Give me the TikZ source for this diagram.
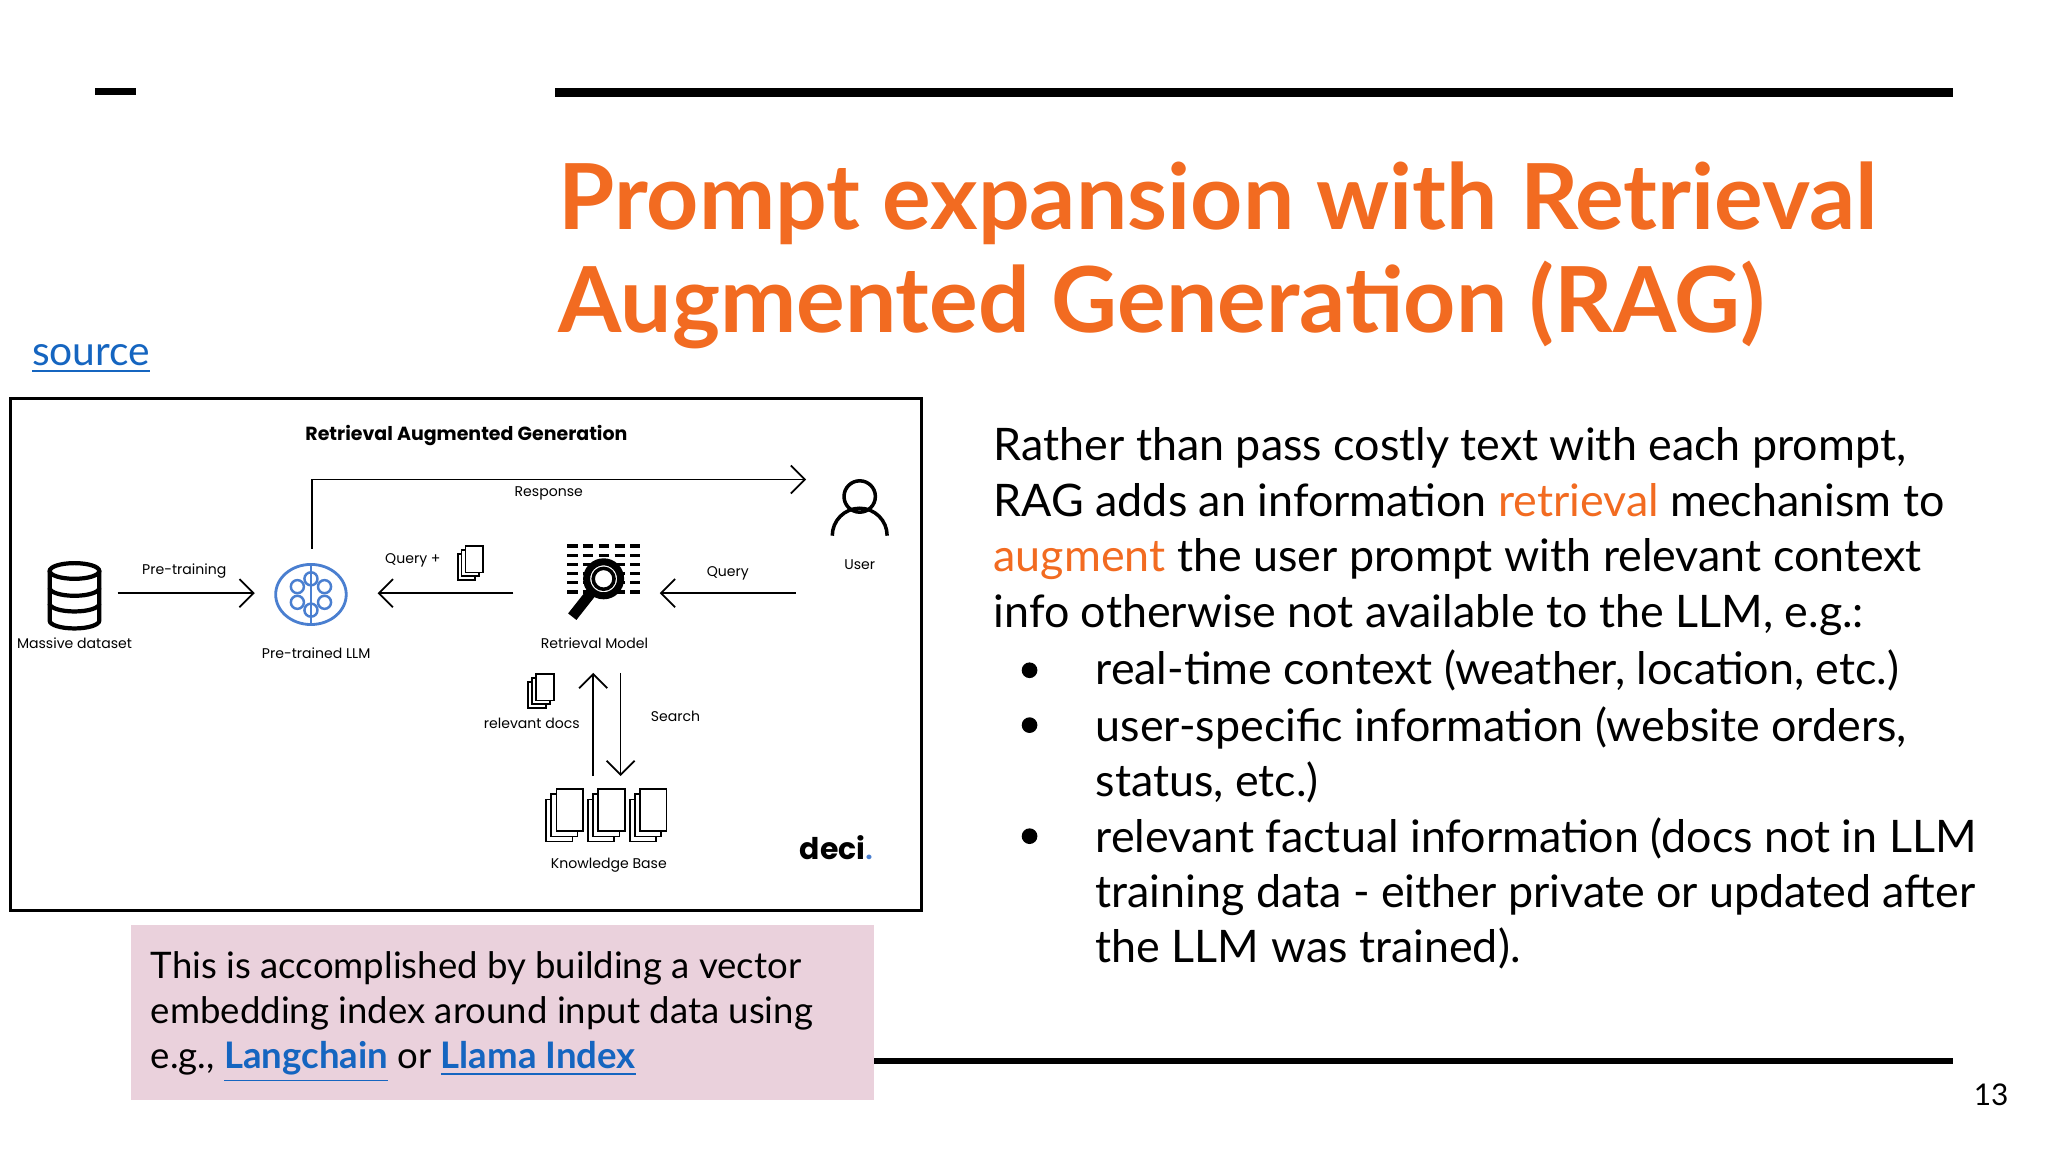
\documentclass[tikz,border=0pt]{standalone}
\usepackage{fontspec}
\usetikzlibrary{arrows.meta}
\setmainfont{Lato}
\newfontfamily\pop{Poppins}
\definecolor{orng}{HTML}{F26B21}
\definecolor{lnk}{HTML}{1565C0}
\definecolor{pinkbox}{HTML}{EAD1DC}
\definecolor{brain}{HTML}{4A7FD0}
\begin{document}
\begin{tikzpicture}[x=0.013065cm,y=-0.013065cm,
  lbl/.style={font=\pop\fontsize{4}{5}\selectfont,inner sep=0},
  arr/.style={-{Straight Barb[length=4pt]},line width=0.5pt},
  body/.style={font=\fontsize{12.75}{15.75}\selectfont,anchor=north west,align=left,inner sep=0},
  doc/.style={draw,line width=0.5pt,fill=white,minimum width=5pt,minimum height=7.5pt,inner sep=0},
  kdoc/.style={doc,minimum width=7.5pt,minimum height=12pt}]
\useasboundingbox (0,0) rectangle (1567.5,881.7);
\fill[white] (0,0) rectangle (1567.5,881.7);
% top rules
\draw[line width=2pt] (73,70) -- (104,70);
\draw[line width=2.6pt] (425,71) -- (1495,71);
\draw[line width=1.5pt] (669,812) -- (1495,812);
% title
\node[anchor=north west,inner sep=0,text=orng,font=\bfseries\fontsize{25.9}{29.5}\selectfont,align=left] (title) at (427,123) {Prompt expansion with Retrieval\\Augmented Generation (RAG)};
\node[anchor=base west,inner sep=0,text=lnk,font=\fontsize{11.6}{14}\selectfont] (src) at (24,280) {\underline{source}};
% diagram frame
\draw[line width=0.8pt] (8,305) rectangle (705,697);
\node[lbl,font=\pop\bfseries\fontsize{5.4}{7}\selectfont] (t) at (357,333) {Retrieval Augmented Generation};
% database
\begin{scope}[shift={(57,455)}]
\draw[line width=1.2pt,fill=white] (-19,-18) -- (-19,20) arc[start angle=180,end angle=360,x radius=19,y radius=-6] -- (19,-18);
\draw[line width=1.2pt] (-19,-5) arc[start angle=180,end angle=360,x radius=19,y radius=-6];
\draw[line width=1.2pt] (-19,7) arc[start angle=180,end angle=360,x radius=19,y radius=-6];
\draw[line width=1.2pt,fill=white] (0,-18) ellipse[x radius=19,y radius=6];
\end{scope}
\node[lbl] (md) at (57,492) {Massive dataset};
% brain
\coordinate (llm) at (238,455);
\draw[brain,line width=0.8pt] (llm) ellipse[x radius=27,y radius=23];
\foreach \a in {30,90,150,210,270,330}{\draw[brain,line width=0.7pt] (llm)++(\a:12) circle[radius=5];}
\draw[brain,line width=0.8pt] (238,432)--(238,478);
\node[lbl] (pl) at (242,500) {Pre-trained LLM};
% retrieval model
\begin{scope}[shift={(462,440)}]
\foreach \yy in {-22,-15,-8,-1,6,13}{\draw[line width=1pt,dash pattern=on 3pt off 1.5pt] (-28,\yy)--(28,\yy);}
\draw[line width=2pt,fill=white] (0,3) circle[radius=13];
\draw[line width=1pt] (0,3) circle[radius=8];
\draw[line width=3pt] (-9,13)--(-24,32);
\end{scope}
\coordinate (rm) at (462,455);
\node[lbl] (rml) at (455,492) {Retrieval Model};
% user
\draw[line width=1pt] (658,380) circle[radius=12];
\draw[line width=1pt] (637,410) arc[start angle=180,end angle=360,radius=21];
\node[lbl] (user) at (658,432) {User};
% docs near query
\foreach \d in {0,3,6}{\node[doc] at (357+\d,434-\d) {};}
\node[lbl] (q1) at (316,429) {Query +};
% arrows
\draw[arr] (90,454) -- (195,454);
\node[lbl] (pt) at (141,437) {Pre-training};
\draw[arr] (393,454) -- (289,454);
\draw[arr] (609,454) -- (505,454);
\node[lbl] (q2) at (557,439) {Query};
\draw[arr] (239,420) -- (239,367) -- (617,367);
\node[lbl] (resp) at (420,378) {Response};
\draw[arr] (454,594) -- (454,515);
\draw[arr] (475,515) -- (475,594);
\node[lbl] (srch) at (517,548) {Search};
\foreach \d in {0,3,6}{\node[doc] at (411+\d,532-\d) {};}
\node[lbl] (rd) at (407,554) {relevant docs};
% knowledge base
\foreach \bx in {434,466,498}{\foreach \d in {0,4,8}{\node[kdoc] at (\bx-6+\d,628-\d) {};}}
\node[lbl] (kb) at (466,662) {Knowledge Base};
\node[inner sep=0,font=\pop\bfseries\fontsize{8.5}{10}\selectfont] (deci) at (640,649) {deci\textcolor{brain}{\scriptsize.}};
% pink box
\fill[pinkbox] (100,708) rectangle (669,842);
\node[anchor=north west,inner sep=0,align=left,font=\fontsize{10.4}{12.8}\selectfont] (pb) at (115,728) {This is accomplished by building a vector\\embedding index around input data using\\e.g., \textcolor{lnk}{\underline{\textbf{Langchain}}} or \textcolor{lnk}{\underline{\textbf{Llama Index}}}};
% body
\node[body] (b1) at (760,327) {Rather than pass costly text with each prompt,\\RAG adds an information \textcolor{orng}{retrieval} mechanism to\\\textcolor{orng}{augment} the user prompt with relevant context\\info otherwise not available to the LLM, e.g.:};
\node[body] (b2) at (838,497) {real-time context (weather, location, etc.)};
\node[body] (b3) at (838,540) {user-specific information (website orders,\\status, etc.)};
\node[body] (b4) at (838,625) {relevant factual information (docs not in LLM\\training data - either private or updated after\\the LLM was trained).};
\foreach \yy in {513,555,640}{\fill (788,\yy) circle[radius=6];}
\node[inner sep=0,font=\fontsize{8.5}{10}\selectfont] (pg) at (1524,838) {13};
\end{tikzpicture}
\end{document}
